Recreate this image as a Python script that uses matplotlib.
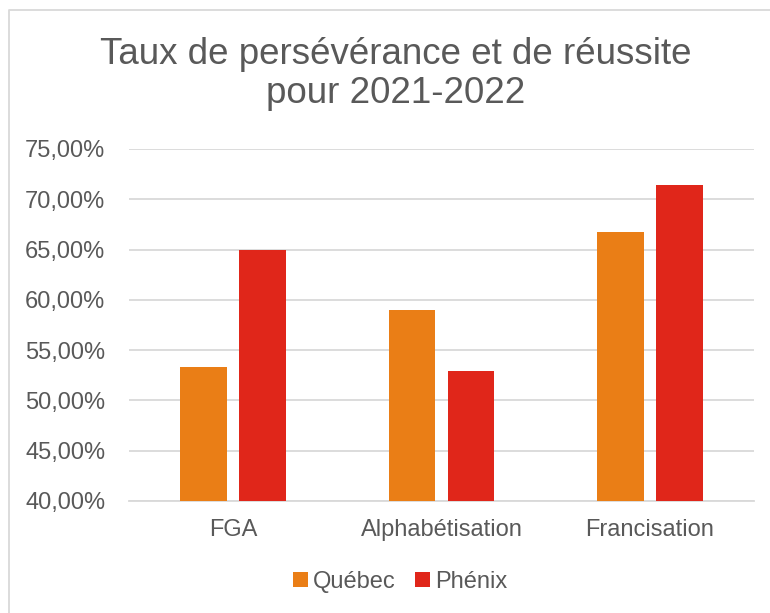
import matplotlib
matplotlib.use("Agg")
import matplotlib.pyplot as plt
from matplotlib.lines import Line2D
import numpy as np

categories = ["FGA", "Alphabétisation", "Francisation"]
series_names = ["Québec", "Phénix"]
quebec = [53.3, 59.0, 66.7]
phenix = [65.0, 52.9, 71.4]
yticks = [40, 45, 50, 55, 60, 65, 70, 75]
ytick_labels = ["40,00%", "45,00%", "50,00%", "55,00%", "60,00%", "65,00%", "70,00%", "75,00%"]
title_lines = ["Taux de persévérance et de réussite", "pour 2021-2022"]

plt.rcParams['font.family'] = ['Liberation Sans', 'DejaVu Sans']
TXT = "#595959"
C_Q = "#EA7E16"
C_P = "#E0261A"
GRID = "#D9D9D9"

W, H = 770, 613
fig = plt.figure(figsize=(W / 100, H / 100), dpi=100)
ax = fig.add_axes([129 / W, 1 - 501 / H, (754 - 129) / W, (501 - 149) / H])

x = np.arange(len(categories))
bw = 0.224
off = 0.142
ax.bar(x - off, np.array(quebec) - 40, bw, bottom=40, color=C_Q, label=series_names[0], zorder=3)
ax.bar(x + off, np.array(phenix) - 40, bw, bottom=40, color=C_P, label=series_names[1], zorder=3)

ax.set_xlim(-0.5, len(categories) - 0.5)
ax.set_ylim(40, 75)
ax.set_yticks(yticks)
ax.set_yticklabels(ytick_labels, fontsize=17, color=TXT)
ax.set_xticks(x)
ax.set_xticklabels(categories, fontsize=17, color=TXT)
ax.tick_params(axis='both', length=0)
ax.tick_params(axis='y', pad=17)
ax.tick_params(axis='x', pad=13)
ax.yaxis.grid(True, color=GRID, linewidth=1.3, zorder=0)
ax.set_axisbelow(True)
for s in ["top", "right", "left"]:
    ax.spines[s].set_visible(False)
ax.spines["bottom"].set_color(GRID)
ax.spines["bottom"].set_linewidth(1.3)

baselines = [63.5, 103.5]
for line, yb in zip(title_lines, baselines):
    fig.text(396 / W, 1 - yb / H, line, ha="center", va="baseline", fontsize=26.5, color=TXT)

leg = fig.legend(loc="center", bbox_to_anchor=(400 / W, 1 - 582 / H), ncol=2, frameon=False,
                 fontsize=17, handlelength=0.62, handleheight=0.62, handletextpad=0.2,
                 columnspacing=0.85)
for t in leg.get_texts():
    t.set_color(TXT)

fig.add_artist(Line2D([8.7 / W, 8.7 / W, 1.0], [0.0, 1 - 10 / H, 1 - 10 / H],
                      transform=fig.transFigure, color=GRID, linewidth=1.3))

fig.savefig("out.png", dpi=100, facecolor="white")
